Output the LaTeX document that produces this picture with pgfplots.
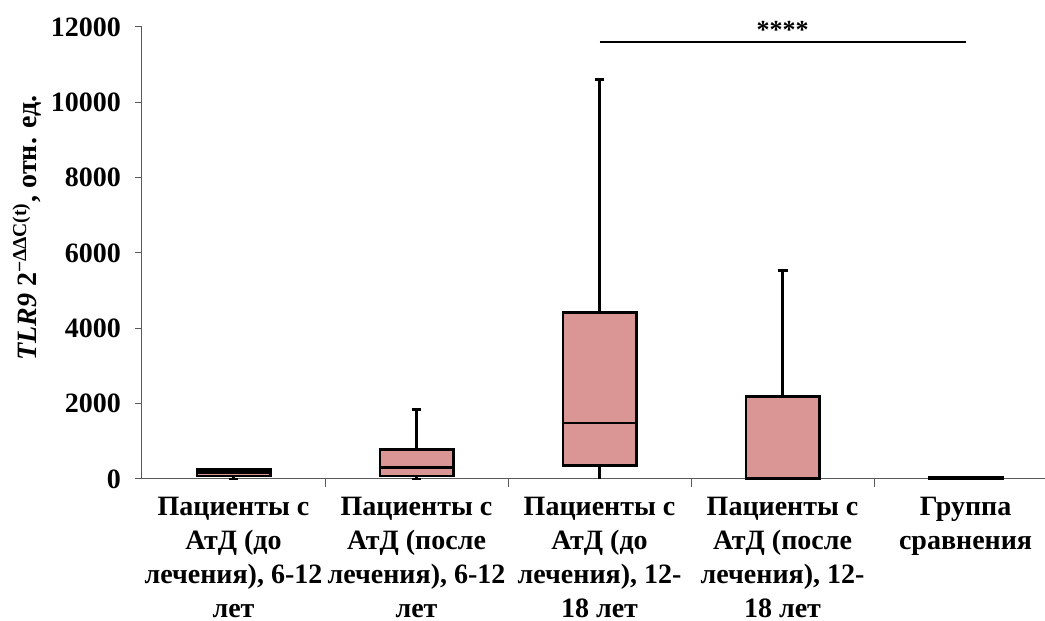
\documentclass[border=0pt]{standalone}
\usepackage{fontspec}
\setmainfont{Liberation Serif}
\usepackage{pgfplots}
\pgfplotsset{compat=1.18}
\definecolor{boxfill}{RGB}{217,150,149}
\pgfplotsset{
  bx/.style={fill=boxfill, draw=black, line width=1.4pt, mark=none},
  ln/.style={black, line width=1.4pt, mark=none},
}
\begin{document}
\begin{tikzpicture}
\begin{axis}[
  at={(0,0)}, anchor=south west,
  scale only axis, width=451.5pt, height=226pt,
  xmin=-0.5, xmax=4.434, ymin=0, ymax=12000,
  clip=false,
  axis lines=left,
  axis line style={-, line width=0.5pt, black!65},
  tick align=outside,
  xtick={0,1,2,3,4},
  xticklabels={{Пациенты с\\АтД (до\\лечения), 6-12\\лет},
               {Пациенты с\\АтД (после\\лечения), 6-12\\лет},
               {Пациенты с\\АтД (до\\лечения), 12-\\18 лет},
               {Пациенты с\\АтД (после\\лечения), 12-\\18 лет},
               {Группа\\сравнения}},
  x tick label style={align=center, font=\bfseries\fontsize{14}{17}\selectfont, anchor=north, yshift=-2pt},
  x tick style={draw=none},
  extra x ticks={0.5,1.5,2.5,3.5},
  extra x tick labels={},
  extra x tick style={x tick style={draw=black!65, line width=0.5pt}, major tick length=4pt},
  ytick={0,2000,4000,6000,8000,10000,12000},
  scaled y ticks=false,
  yticklabel style={/pgf/number format/fixed, /pgf/number format/precision=0},
  y tick style={draw=black!65, line width=0.5pt},
  major tick length=3.5pt,
  y tick label style={font=\bfseries\fontsize{14}{16}\selectfont, xshift=-3.5pt},
  /pgf/number format/assume math mode=true,
  /pgf/number format/set thousands separator={},
  ylabel={\textit{TLR9} 2\textsuperscript{−ΔΔC(t)}, отн. ед.},
  ylabel style={font=\bfseries\fontsize{14}{16}\selectfont, at={(axis description cs:-0.1274,0.555)}, anchor=center},
]
% group 1
\addplot[ln] coordinates {(0,0) (0,80)};
\addplot[ln] coordinates {(-0.027,0) (0.027,0)};
\addplot[bx] coordinates {(-0.2,80) (0.2,80) (0.2,250) (-0.2,250)} -- cycle;
\addplot[ln] coordinates {(-0.2,165) (0.2,165)};
% group 2
\addplot[ln] coordinates {(1,0) (1,80)};
\addplot[ln] coordinates {(0.973,0) (1.027,0)};
\addplot[ln] coordinates {(1,790) (1,1840)};
\addplot[ln] coordinates {(0.973,1840) (1.027,1840)};
\addplot[bx] coordinates {(0.8,80) (1.2,80) (1.2,790) (0.8,790)} -- cycle;
\addplot[ln] coordinates {(0.8,310) (1.2,310)};
% group 3
\addplot[ln] coordinates {(2,0) (2,360)};
\addplot[ln] coordinates {(2,4425) (2,10600)};
\addplot[ln] coordinates {(1.973,10600) (2.027,10600)};
\addplot[bx] coordinates {(1.8,360) (2.2,360) (2.2,4425) (1.8,4425)} -- cycle;
\addplot[ln] coordinates {(1.8,1487) (2.2,1487)};
% group 4
\addplot[ln] coordinates {(3,2200) (3,5540)};
\addplot[ln] coordinates {(2.973,5540) (3.027,5540)};
\addplot[bx] coordinates {(2.8,10) (3.2,10) (3.2,2200) (2.8,2200)} -- cycle;
% group 5
\addplot[bx] coordinates {(3.8,5) (4.2,5) (4.2,40) (3.8,40)} -- cycle;
% significance
\addplot[black, line width=1pt, mark=none] coordinates {(2.0,11600) (4.0,11600)};
\node[font=\bfseries\fontsize{13}{15}\selectfont, anchor=center, yshift=-1.5pt] at (axis cs:3.0,12000) {****};
\end{axis}
\pgfresetboundingbox
\path[use as bounding box] (-71pt,-71pt) rectangle (451.5pt,239.5pt);
\end{tikzpicture}
\end{document}
